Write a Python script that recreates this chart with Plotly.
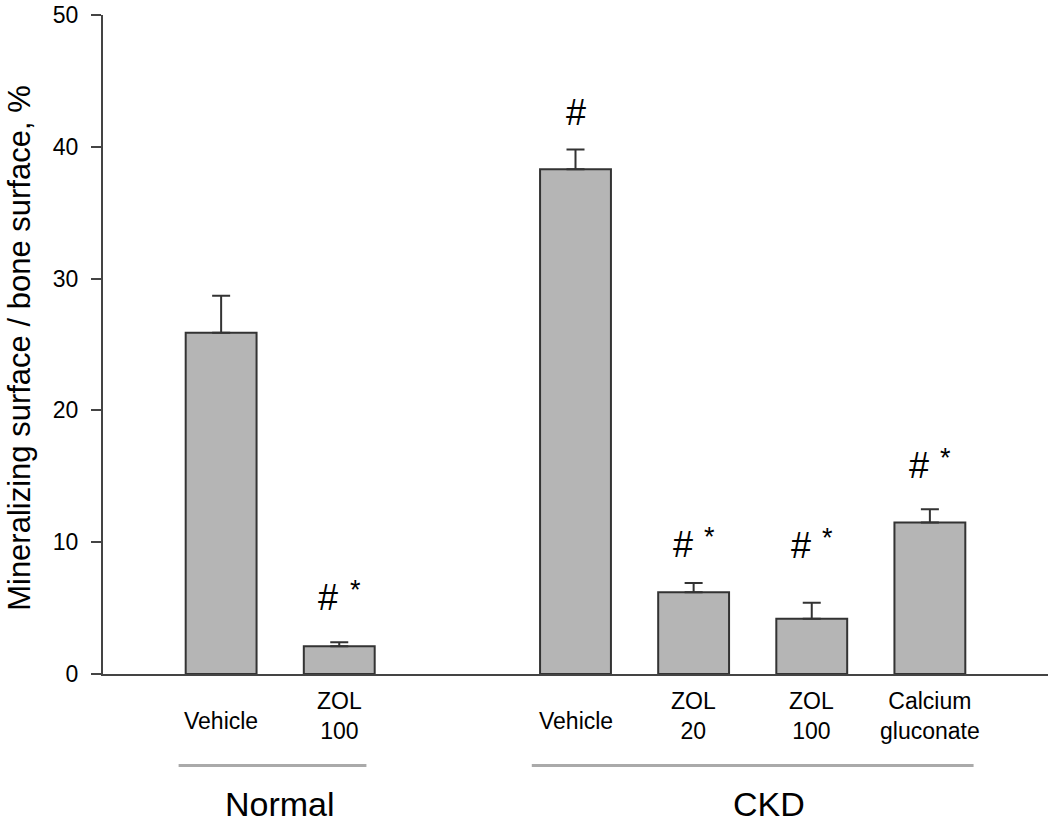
import plotly.graph_objects as go

# ---- data ----
positions = [0, 1, 3, 4, 5, 6]
labels = ["Vehicle", "ZOL<br>100", "Vehicle", "ZOL<br>20", "ZOL<br>100", "Calcium<br>gluconate"]
values = [25.9, 2.1, 38.3, 6.2, 4.2, 11.5]
errors = [2.8, 0.3, 1.5, 0.7, 1.2, 1.0]
hash_marks = ["", "#", "#", "#", "#", "#"]
star_marks = ["", "*", "", "*", "*", "*"]
mark_levels = [0, 5.8, 42.6, 9.8, 9.75, 15.8]
groups = ["Normal", "CKD"]
group_spans = [(-0.36, 1.23), (2.63, 6.37)]
group_label_x = [0.5, 4.64]
y_ticks = [0, 10, 20, 30, 40, 50]

FONT = "Liberation Sans, Arial, sans-serif"
AX = "#444444"

fig = go.Figure()
fig.add_trace(go.Bar(
    x=positions, y=values, width=0.6,
    marker=dict(color="#b5b5b5", line=dict(color="#333333", width=2)),
    error_y=dict(type="data", symmetric=False, array=errors,
                 arrayminus=[0] * len(errors),
                 color="#333333", thickness=2, width=9),
    showlegend=False,
))

annotations = []
# category labels under the axis
for p, lab in zip(positions, labels):
    two = "<br>" in lab
    annotations.append(dict(
        x=p, y=0, xref="x", yref="y", text=lab, showarrow=False,
        xanchor="center", yanchor="middle", yshift=-42 if two else -47,
        font=dict(family=FONT, size=23, color="black"), align="center"))
# significance marks
for p, h, s, lv in zip(positions, hash_marks, star_marks, mark_levels):
    if h:
        annotations.append(dict(
            x=p, y=lv, xref="x", yref="y", text=h, showarrow=False,
            xanchor="center", yanchor="middle", xshift=-11 if s else 0,
            font=dict(family=FONT, size=36, color="black")))
    if s:
        annotations.append(dict(
            x=p, y=lv, xref="x", yref="y", text=s, showarrow=False,
            xanchor="center", yanchor="middle", xshift=16, yshift=8,
            font=dict(family=FONT, size=27, color="black")))
# group labels
for g, gx in zip(groups, group_label_x):
    annotations.append(dict(
        x=gx, y=-0.197, xref="x", yref="paper", text=g, showarrow=False,
        xanchor="center", yanchor="middle",
        font=dict(family=FONT, size=34, color="black")))
# y axis title
annotations.append(dict(
    x=-0.0885, y=0.4955, xref="paper", yref="paper",
    text="Mineralizing surface / bone surface, %", showarrow=False,
    textangle=-90, xanchor="center", yanchor="middle",
    font=dict(family=FONT, size=31, color="black")))

shapes = []
for (a, b) in group_spans:
    shapes.append(dict(type="line", xref="x", yref="paper", x0=a, x1=b,
                       y0=-0.139, y1=-0.139, line=dict(color="#aaaaaa", width=3)))
# small extension of the baseline to the left of the y axis
shapes.append(dict(type="line", xref="paper", yref="paper", x0=-0.011, x1=0,
                   y0=0, y1=0, line=dict(color=AX, width=2)))

fig.update_layout(
    width=1050, height=822,
    margin=dict(l=103, r=2, t=13, b=148),
    paper_bgcolor="white", plot_bgcolor="white",
    annotations=annotations, shapes=shapes,
    xaxis=dict(range=[-1.0, 7.0], showticklabels=False, ticks="",
               showgrid=False, zeroline=False, showline=True,
               linecolor=AX, linewidth=2),
    yaxis=dict(range=[0, 50], tickvals=y_ticks, ticks="outside", ticklen=10,
               tickwidth=2, tickcolor=AX, showgrid=False, zeroline=False,
               showline=True, linecolor=AX, linewidth=2,
               tickfont=dict(family=FONT, size=23, color="black"),
               ticklabelstandoff=8),
)

# remove the default page margin so the figure fills the window exactly
fig.write_html("out.html",
               config={"displayModeBar": False},
               post_script="document.body.style.margin='0';"
                           "document.body.style.overflow='hidden';")
